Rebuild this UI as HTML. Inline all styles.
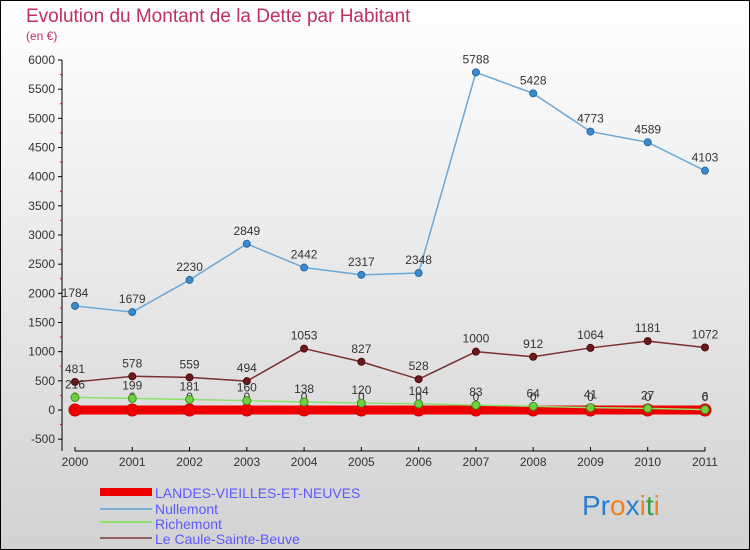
<!DOCTYPE html>
<html><head><meta charset="utf-8"><style>
body{margin:0}
svg{display:block;font-family:"Liberation Sans",sans-serif}
</style></head><body>
<svg width="750" height="550">
<defs><linearGradient id="bg" x1="0" y1="0" x2="0" y2="1"><stop offset="0" stop-color="#ffffff"/><stop offset="1" stop-color="#d2d2d2"/></linearGradient></defs>
<rect x="0.5" y="0.5" width="749" height="549" fill="url(#bg)" stroke="#000"/>
<text x="26" y="22" font-size="19" fill="#c0305a">Evolution du Montant de la Dette par Habitant</text>
<text x="26" y="40" font-size="12" fill="#c0305a">(en €)</text>
<g id="axes"></g><g id="series"></g>
<g>
<rect x="100" y="488" width="52" height="8" fill="#e00"/>
<text x="155" y="498" font-size="14" fill="#5a5aff">LANDES-VIEILLES-ET-NEUVES</text>
<line x1="100" x2="152" y1="509" y2="509" stroke="#7ab0d8" stroke-width="2"/>
<text x="155" y="514" font-size="14" fill="#5a5aff">Nullemont</text>
<line x1="100" x2="152" y1="522" y2="522" stroke="#90e070" stroke-width="2"/>
<text x="155" y="529" font-size="14" fill="#5a5aff">Richemont</text>
<line x1="100" x2="152" y1="538" y2="538" stroke="#906060" stroke-width="2"/>
<text x="155" y="544" font-size="14" fill="#5a5aff">Le Caule-Sainte-Beuve</text>
</g>
<text x="582" y="515" font-size="28"><tspan fill="#2a7fd0">Pr</tspan><tspan fill="#f08020">o</tspan><tspan fill="#2a7fd0">x</tspan><tspan fill="#f08020">i</tspan><tspan fill="#30a040">t</tspan><tspan fill="#f08020">i</tspan></text>
</svg>
<script>
const years=[2000,2001,2002,2003,2004,2005,2006,2007,2008,2009,2010,2011];
const yTicks=[-500,0,500,1000,1500,2000,2500,3000,3500,4000,4500,5000,5500,6000];
const landes=[0,0,0,0,0,0,0,0,0,0,0,0];
const nullemont=[1784,1679,2230,2849,2442,2317,2348,5788,5428,4773,4589,4103];
const richemont=[216,199,181,160,138,120,104,83,64,41,27,6];
const caule=[481,578,559,494,1053,827,528,1000,912,1064,1181,1072];
const NS="http://www.w3.org/2000/svg";
const xs=i=>75+i*(630/11);
const ys=v=>410-v*(350/6000);
function mk(t,a,p){const e=document.createElementNS(NS,t);for(const k in a)e.setAttribute(k,a[k]);p.appendChild(e);return e;}
const ax=document.getElementById('axes'),se=document.getElementById('series');
mk('line',{x1:62,x2:62,y1:60,y2:451,stroke:'#000'},ax);
mk('line',{x1:75,x2:705,y1:451,y2:451,stroke:'#000'},ax);
yTicks.forEach(v=>{const y=ys(v);
 mk('line',{x1:58,x2:62,y1:y,y2:y,stroke:'#000'},ax);
 if(v<6000)mk('line',{x1:60,x2:62,y1:y-14.6,y2:y-14.6,stroke:'#e00'},ax);
 const t=mk('text',{x:55,y:y+4,'font-size':12,fill:'#333','text-anchor':'end'},ax);t.textContent=v;
 
 });
years.forEach((yr,i)=>{const x=xs(i);
 mk('line',{x1:x,x2:x,y1:447,y2:451,stroke:'#000'},ax);
 const t=mk('text',{x:x,y:466,'font-size':12,fill:'#333','text-anchor':'middle'},ax);t.textContent=yr;
 
 });
function series(d,name,col,w,r,fill,stroke){
 const g=mk('g',{},se);
 
 
 mk('polyline',{points:d.map((v,i)=>xs(i)+','+ys(v)).join(' '),fill:'none',stroke:col,'stroke-width':w,'stroke-linejoin':'round'},g);
 d.forEach((v,i)=>{const c=mk('circle',{cx:xs(i),cy:ys(v),r:r,fill:fill,stroke:stroke,'stroke-width':1},g);
  
  
  const t=mk('text',{x:xs(i),y:ys(v)-9,'font-size':12,fill:'#333','text-anchor':'middle'},g);t.textContent=v;});
}
series(landes,'landes','#e00',9,6,'#e00','#c00');
series(caule,'caule','#7a3030',1.5,3.5,'#6a1a1a','#4a0a0a');
series(nullemont,'nullemont','#6aa8d8',1.5,3.5,'#3a8ad0','#2a6aa0');
series(richemont,'richemont','#90e070',1.5,4,'#70d040','#409020');
</script>
</body></html>
